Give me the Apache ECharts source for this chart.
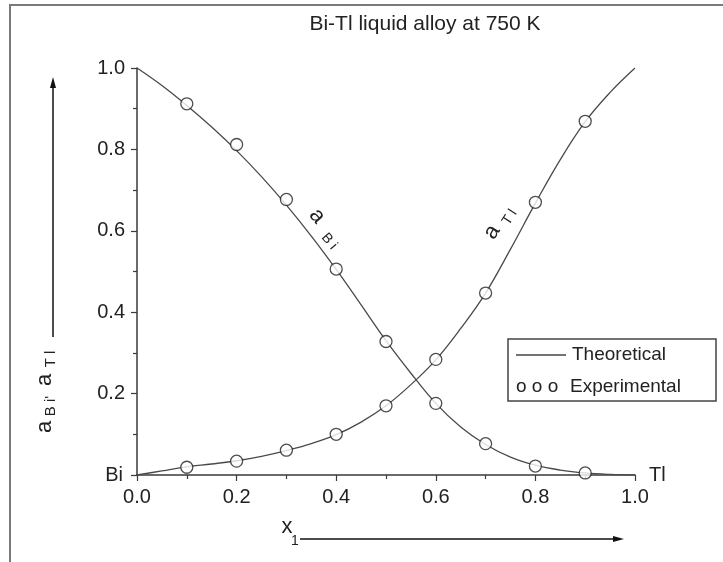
<!DOCTYPE html>
<html>
<head>
<meta charset="utf-8">
<script src="https://cdn.jsdelivr.net/npm/echarts@6/dist/echarts.min.js"></script>
<style>
html,body{margin:0;padding:0;background:#fff;}
#chart{width:723px;height:562px;}
</style>
</head>
<body>
<div id="chart"></div>
<script>
// ---- data ----
var xTheory = [0,0.05,0.1,0.15,0.2,0.25,0.3,0.35,0.4,0.45,0.5,0.55,0.6,0.65,0.7,0.75,0.8,0.85,0.9,0.95,1.0];
var aBiTheory = [1.0,0.957,0.908,0.855,0.797,0.733,0.663,0.587,0.505,0.418,0.33,0.25,0.176,0.118,0.075,0.044,0.024,0.012,0.005,0.0015,0];
var aTlTheory = [0,0.010,0.020,0.027,0.035,0.046,0.060,0.077,0.099,0.130,0.170,0.222,0.283,0.360,0.447,0.555,0.668,0.775,0.868,0.940,1.0];
var xExp = [0.1,0.2,0.3,0.4,0.5,0.6,0.7,0.8,0.9];
var aBiExp = [0.912,0.812,0.677,0.506,0.328,0.176,0.077,0.022,0.005];
var aTlExp = [0.019,0.034,0.061,0.100,0.170,0.284,0.447,0.670,0.869];
var titleText = 'Bi-Tl liquid alloy at 750 K';
var legendNames = ['Theoretical','Experimental'];

function pairs(xs, ys){ return xs.map(function(x,i){ return [x, ys[i]]; }); }

var FONT = '"Liberation Sans", Arial, Helvetica, sans-serif';
var INK = '#3a3a3a';
var chart = echarts.init(document.getElementById('chart'));

var axisCommon = {
  min: 0, max: 1, interval: 0.2,
  axisLine: {show: true, lineStyle: {color: INK, width: 1.5}},
  axisTick: {show: true, inside: false, length: 6, lineStyle: {color: INK, width: 1.2}},
  minorTick: {show: true, splitNumber: 2, length: 4, lineStyle: {color: INK, width: 1.2}},
  splitLine: {show: false}
};
var labelStyle = {color: '#222', fontSize: 20, fontFamily: FONT, margin: 12};

var option = {
  backgroundColor: '#fff',
  animation: false,
  title: {
    text: titleText, left: 420, top: 9, textAlign: 'center',
    textStyle: {fontSize: 21, fontWeight: 'normal', color: '#222', fontFamily: FONT}
  },
  grid: {left: 137, right: 88, top: 68, bottom: 87, containLabel: false},
  xAxis: Object.assign({type: 'value'}, axisCommon, {
    axisLabel: Object.assign({}, labelStyle, {formatter: function(v){ return v.toFixed(1); }})
  }),
  yAxis: Object.assign({type: 'value'}, axisCommon, {
    axisLabel: Object.assign({}, labelStyle, {formatter: function(v){ return v === 0 ? '' : v.toFixed(1); }})
  }),
  series: [
    {name: 'aBi theory', type: 'line', data: pairs(xTheory, aBiTheory), smooth: 0.4, showSymbol: false,
     lineStyle: {color: '#4a4a4a', width: 1.3}, z: 2},
    {name: 'aTl theory', type: 'line', data: pairs(xTheory, aTlTheory), smooth: 0.4, showSymbol: false,
     lineStyle: {color: '#4a4a4a', width: 1.3}, z: 2},
    {name: 'aBi exp', type: 'scatter', data: pairs(xExp, aBiExp), symbol: 'circle', symbolSize: 12,
     itemStyle: {color: '#fff', borderColor: '#222', borderWidth: 1.3}, z: 5},
    {name: 'aTl exp', type: 'scatter', data: pairs(xExp, aTlExp), symbol: 'circle', symbolSize: 12,
     itemStyle: {color: '#fff', borderColor: '#222', borderWidth: 1.3}, z: 5}
  ],
  graphic: [
    // outer frame
    {type: 'polyline', shape: {points: [[10, 570], [10, 5], [730, 5]]}, style: {stroke: '#7a7a7a', lineWidth: 2, fill: null}, silent: true},
    // Bi / Tl end labels
    {type: 'text', x: 123, y: 475, style: {text: 'Bi', font: '20px ' + FONT, fill: '#222', textAlign: 'right', textVerticalAlign: 'middle'}},
    {type: 'text', x: 649, y: 475, style: {text: 'Tl', font: '20px ' + FONT, fill: '#222', textAlign: 'left', textVerticalAlign: 'middle'}},
    // y axis label (rotated)
    {type: 'group', x: 45, y: 440, rotation: Math.PI / 2, children: [
      {type: 'text', x: 13, y: 0, style: {text: 'a', font: '22px ' + FONT, fill: '#222', textAlign: 'center', textVerticalAlign: 'middle'}},
      {type: 'text', x: 34, y: 6, style: {text: 'B i\'', font: '15px ' + FONT, fill: '#222', textAlign: 'center', textVerticalAlign: 'middle'}},
      {type: 'text', x: 60, y: 0, style: {text: 'a', font: '22px ' + FONT, fill: '#222', textAlign: 'center', textVerticalAlign: 'middle'}},
      {type: 'text', x: 81, y: 6, style: {text: 'T l', font: '15px ' + FONT, fill: '#222', textAlign: 'center', textVerticalAlign: 'middle'}}
    ]},
    // y arrow
    {type: 'line', shape: {x1: 53, y1: 337, x2: 53, y2: 84}, style: {stroke: '#111', lineWidth: 1.5}},
    {type: 'polygon', shape: {points: [[53, 77], [50, 88], [56, 88]]}, style: {fill: '#111'}},
    // x label
    {type: 'text', x: 287, y: 527, style: {text: 'x', font: '22px ' + FONT, fill: '#222', textAlign: 'center', textVerticalAlign: 'middle'}},
    {type: 'text', x: 295, y: 541, style: {text: '1', font: '14px ' + FONT, fill: '#222', textAlign: 'center', textVerticalAlign: 'middle'}},
    {type: 'line', shape: {x1: 300, y1: 539, x2: 617, y2: 539}, style: {stroke: '#111', lineWidth: 1.5}},
    {type: 'polygon', shape: {points: [[624, 539], [613, 536], [613, 542]]}, style: {fill: '#111'}},
    // curve labels
    {type: 'group', x: 317, y: 216, rotation: -0.87, children: [
      {type: 'text', x: 0, y: 0, style: {text: 'a', font: '22px ' + FONT, fill: '#222', textAlign: 'center', textVerticalAlign: 'middle'}},
      {type: 'text', x: 19, y: 7, style: {text: 'B i', font: '14px ' + FONT, fill: '#222', textAlign: 'left', textVerticalAlign: 'middle'}}
    ]},
    {type: 'group', x: 492, y: 232, rotation: 1.0, children: [
      {type: 'text', x: 0, y: 0, style: {text: 'a', font: '22px ' + FONT, fill: '#222', textAlign: 'center', textVerticalAlign: 'middle'}},
      {type: 'text', x: 14, y: 7, style: {text: 'T l', font: '14px ' + FONT, fill: '#222', textAlign: 'left', textVerticalAlign: 'middle'}}
    ]},
    // legend
    {type: 'rect', shape: {x: 508, y: 339, width: 208, height: 62}, style: {stroke: '#444', lineWidth: 1.5, fill: '#fff'}, z: 10},
    {type: 'line', shape: {x1: 516, y1: 355, x2: 566, y2: 355}, style: {stroke: '#444', lineWidth: 1.3}, z: 11},
    {type: 'text', x: 572, y: 355, style: {text: legendNames[0], font: '19px ' + FONT, fill: '#222', textAlign: 'left', textVerticalAlign: 'middle'}, z: 11},
    {type: 'text', x: 516, y: 387, style: {text: 'o o o', font: '19px ' + FONT, fill: '#222', textAlign: 'left', textVerticalAlign: 'middle'}, z: 11},
    {type: 'text', x: 570, y: 387, style: {text: legendNames[1], font: '19px ' + FONT, fill: '#222', textAlign: 'left', textVerticalAlign: 'middle'}, z: 11}
  ]
};
chart.setOption(option);
</script>
</body>
</html>
